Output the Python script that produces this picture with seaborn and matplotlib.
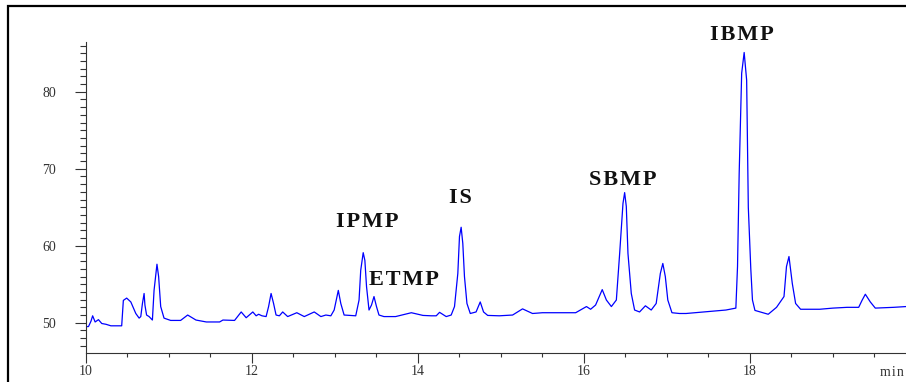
import matplotlib
matplotlib.use("Agg")
import matplotlib.pyplot as plt
from matplotlib.patches import Rectangle
from matplotlib.ticker import MultipleLocator
import seaborn as sns
import pandas as pd

# retention time (min)
time_min = [
    10.00, 10.03, 10.06, 10.08, 10.11, 10.15, 10.19, 10.24, 10.30, 10.43,
    10.45, 10.49, 10.54, 10.60, 10.64, 10.66, 10.68, 10.70, 10.71, 10.73,
    10.76, 10.80, 10.82, 10.855, 10.875, 10.90, 10.94, 11.02, 11.14, 11.225,
    11.325, 11.45, 11.61, 11.65, 11.79, 11.87, 11.93, 12.01, 12.05, 12.08,
    12.12, 12.17, 12.20, 12.23, 12.26, 12.29, 12.33, 12.37, 12.43, 12.54,
    12.63, 12.75, 12.83, 12.89, 12.95, 12.99, 13.04, 13.07, 13.11, 13.25,
    13.29, 13.31, 13.34, 13.36, 13.38, 13.41, 13.44, 13.47, 13.50, 13.53,
    13.59, 13.73, 13.92, 14.06, 14.16, 14.22, 14.26, 14.34, 14.40, 14.44,
    14.48, 14.50, 14.52, 14.54, 14.56, 14.59, 14.63, 14.70, 14.75, 14.79,
    14.84, 14.98, 15.14, 15.26, 15.38, 15.50, 15.66, 15.78, 15.90, 16.03,
    16.08, 16.14, 16.22, 16.27, 16.33, 16.39, 16.43, 16.47, 16.49, 16.51,
    16.53, 16.57, 16.61, 16.67, 16.74, 16.81, 16.87, 16.92, 16.95, 16.98,
    17.01, 17.06, 17.15, 17.23, 17.71, 17.83, 17.85, 17.87, 17.90, 17.93,
    17.96, 17.98, 18.01, 18.03, 18.06, 18.22, 18.32, 18.41, 18.44, 18.47,
    18.51, 18.55, 18.61, 18.84, 19.00, 19.17, 19.31, 19.35, 19.39, 19.45,
    19.51, 19.73, 19.88,
]

# detector signal at those times
signal = [
    49.5, 49.5, 50.2, 50.9, 50.1, 50.4, 49.9, 49.8, 49.6, 49.6,
    52.9, 53.2, 52.7, 51.2, 50.6, 50.8, 52.5, 53.8, 52.3, 51.0,
    50.8, 50.35, 54.2, 57.6, 56.0, 52.1, 50.6, 50.3, 50.3, 51.0,
    50.35, 50.1, 50.1, 50.35, 50.3, 51.4, 50.65, 51.4, 50.9, 51.1,
    50.9, 50.8, 52.1, 53.8, 52.5, 51.0, 50.9, 51.4, 50.8, 51.3,
    50.8, 51.4, 50.8, 51.0, 50.9, 51.65, 54.2, 52.5, 51.0, 50.9,
    52.95, 56.8, 59.1, 58.1, 54.7, 51.65, 52.3, 53.4, 52.1, 51.0,
    50.8, 50.8, 51.3, 50.95, 50.9, 50.9, 51.35, 50.8, 51.0, 52.1,
    56.4, 61.2, 62.4, 60.3, 56.0, 52.5, 51.2, 51.4, 52.7, 51.4,
    50.95, 50.9, 51.0, 51.8, 51.2, 51.3, 51.3, 51.3, 51.3, 52.1,
    51.75, 52.3, 54.3, 52.95, 52.1, 52.95, 59.0, 65.5, 66.9, 65.1,
    59.0, 53.8, 51.65, 51.4, 52.2, 51.65, 52.5, 56.4, 57.7, 56.0,
    52.95, 51.3, 51.2, 51.2, 51.65, 51.9, 57.3, 69.4, 82.4, 85.1,
    81.5, 65.0, 57.0, 52.95, 51.6, 51.1, 52.0, 53.4, 57.3, 58.6,
    55.1, 52.5, 51.75, 51.75, 51.9, 52.0, 52.0, 52.9, 53.7, 52.7,
    51.9, 52.0, 52.1,
]

peak_names = ["IPMP", "ETMP", "IS", "SBMP", "IBMP"]

# where each name sits (data coords)
label_pos = [(13.386, 63.1), (13.831, 55.55), (14.512, 66.2), (16.466, 68.6), (17.904, 87.35)]

df = pd.DataFrame({"time": time_min, "signal": signal})

sns.set_theme(style="ticks")
plt.rcParams["font.family"] = ["Liberation Serif", "DejaVu Serif"]

W, H = 906, 382
fig = plt.figure(figsize=(W / 100, H / 100), dpi=100)
ax = fig.add_axes([86 / W, 1 - 353.3 / H, 820 / W, (353.3 - 41.7) / H])

sns.lineplot(data=df, x="time", y="signal", ax=ax, color="#0000ff", linewidth=0.9, sort=False)

ax.set_xlim(10, 19.88)
ax.set_ylim(46.03, 86.5)
ax.set_xlabel("")
ax.set_ylabel("")

ax.xaxis.set_major_locator(MultipleLocator(2))
ax.xaxis.set_minor_locator(MultipleLocator(0.5))
ax.yaxis.set_major_locator(MultipleLocator(10))
ax.yaxis.set_minor_locator(MultipleLocator(1))

ax.tick_params(axis="y", which="major", direction="out", length=8, width=0.8,
               pad=13.5, labelsize=10, colors="#333333")
ax.tick_params(axis="y", which="minor", direction="out", length=4.3, width=0.8, colors="#333333")
ax.tick_params(axis="x", which="major", direction="out", length=7.2, width=0.8,
               pad=1.5, labelsize=10, colors="#333333")
ax.tick_params(axis="x", which="minor", direction="out", length=3, width=0.8, colors="#333333")

for side in ["top", "right"]:
    ax.spines[side].set_visible(False)
for side in ["left", "bottom"]:
    ax.spines[side].set_color("#333333")
    ax.spines[side].set_linewidth(0.8)

# the labels are letter-spaced in the original
for name, (tx, ty) in zip(peak_names, label_pos):
    ax.text(tx, ty, "\u200a".join(name), ha="center", va="center", fontsize=16,
            fontweight="bold", color="#111111", clip_on=False)

fig.text(892 / W, 1 - 373 / H, "\u200a".join("min"), ha="center", va="center",
         fontsize=10, color="#333333")

# outer frame, cut off at the right and bottom edges
fig.add_artist(Rectangle((8 / W, -0.2), 1.2, 1.2 - 6 / H, transform=fig.transFigure,
                         fill=False, edgecolor="black", linewidth=1.6))

fig.savefig("out.png", dpi=100)
